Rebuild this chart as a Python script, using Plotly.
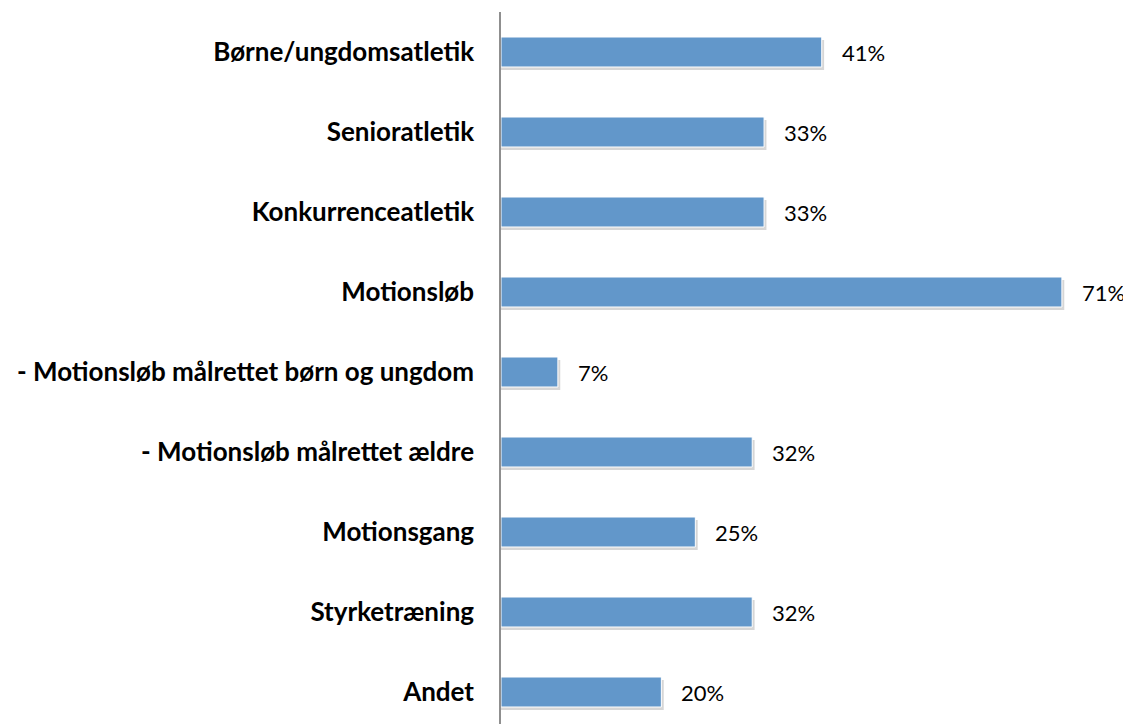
import plotly.graph_objects as go

categories = [
    "Børne/ungdomsatletik",
    "Senioratletik",
    "Konkurrenceatletik",
    "Motionsløb",
    "- Motionsløb målrettet børn og ungdom",
    "- Motionsløb målrettet ældre",
    "Motionsgang",
    "Styrketræning",
    "Andet",
]
values = [40.6, 33.3, 33.3, 71.0, 7.2, 31.8, 24.6, 31.8, 20.3]

bar_color = "#6297CA"
# page body has an 8px margin, so the figure is sized to fit the window
W, H = 1123, 716
left, top = 493, 4
px_per_unit = 7.9
cat_px = 80
bar_w = 0.375

fig = go.Figure()

# soft drop shadow
fig.add_trace(go.Bar(
    y=categories, x=[v + 0.3 for v in values], orientation="h",
    width=bar_w, offset=-bar_w / 2 + 3 / cat_px,
    marker=dict(color="rgba(0,0,0,0.16)", line=dict(width=0)),
    hoverinfo="skip", showlegend=False,
))
fig.add_trace(go.Bar(
    y=categories, x=values, orientation="h",
    width=bar_w, offset=-bar_w / 2,
    marker=dict(color=bar_color, line=dict(color="white", width=1)),
    showlegend=False,
))

for c, v in zip(categories, values):
    fig.add_annotation(
        x=v, y=c, text=f"{v:.0f}%", showarrow=False,
        xanchor="left", xshift=18, yshift=0,
        font=dict(family="Lato, Open Sans, sans-serif", size=22, color="black"),
    )

plot_w = W - left
plot_h = H - top
fig.update_layout(
    width=W, height=H,
    margin=dict(l=left, r=0, t=top, b=0, pad=0),
    paper_bgcolor="white", plot_bgcolor="white",
    barmode="overlay",
    xaxis=dict(range=[0, plot_w / px_per_unit], visible=False, fixedrange=True),
    yaxis=dict(
        autorange=False,
        range=[-0.5 + plot_h / cat_px, -0.5],
        showline=True, linecolor="#8F8F8F", linewidth=1.5,
        showgrid=False, zeroline=False, ticks="",
        ticklabelstandoff=20,
        tickfont=dict(family="Lato, Open Sans, sans-serif", size=26, color="black", weight="bold"),
    ),
)

fig.write_html("out.html")
